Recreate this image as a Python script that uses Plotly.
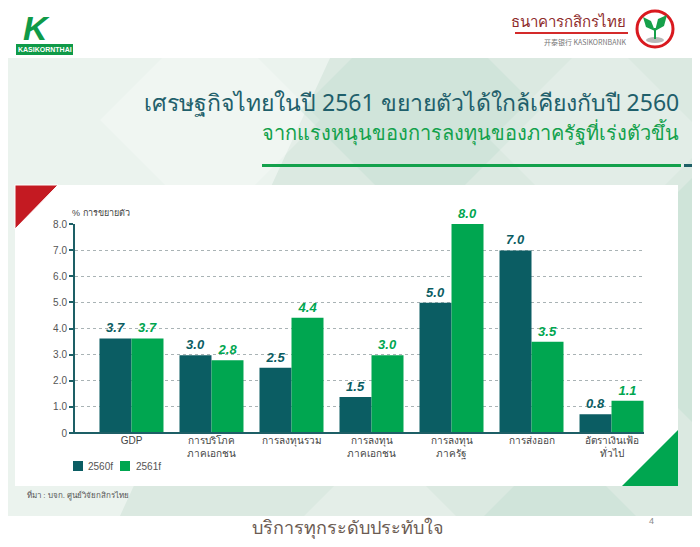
import plotly.graph_objects as go

W, H = 700, 547
# the page body keeps an 8px margin, so the figure is drawn 8px in from the corner
OFF = 8
FW, FH = W - OFF, H - OFF

categories = [
    "GDP",
    "การบริโภค<br>ภาคเอกชน",
    "การลงทุนรวม",
    "การลงทุน<br>ภาคเอกชน",
    "การลงทุน<br>ภาครัฐ",
    "การส่งออก",
    "อัตราเงินเฟ้อ<br>ทั่วไป",
]
# bar heights, printed labels as shown above the bars
growth_2560f = [3.62, 2.98, 2.5, 1.38, 4.99, 6.99, 0.72]
growth_2561f = [3.62, 2.78, 4.41, 2.98, 8.0, 3.49, 1.23]
labels_2560f = ["3.7", "3.0", "2.5", "1.5", "5.0", "7.0", "0.8"]
labels_2561f = ["3.7", "2.8", "4.4", "3.0", "8.0", "3.5", "1.1"]
series_names = ["2560f", "2561f"]
y_ticks = [0, 1, 2, 3, 4, 5, 6, 7, 8]
y_ticktext = ["0", "1.0", "2.0", "3.0", "4.0", "5.0", "6.0", "7.0", "8.0"]

TEAL = "#0b5d63"
GREEN = "#00a650"
AXIS = "#1d5f66"
FONT = "Liberation Sans, Noto Sans, sans-serif"
THAI = "Noto Sans, sans-serif"


def px(x):
    return (x - OFF) / FW


def py(y):
    return 1 - (y - OFF) / FH


def path(points):
    return "M " + " L ".join(f"{px(x):.5f} {py(y):.5f}" for x, y in points) + " Z"


def poly(points, color, line=None):
    return dict(type="path", xref="paper", yref="paper", path=path(points),
                fillcolor=color, line=line or dict(width=0), layer="below")


def rect(x0, y0, x1, y1, color, layer="below"):
    return dict(type="rect", xref="paper", yref="paper",
                x0=px(x0), x1=px(x1), y0=py(y1), y1=py(y0),
                fillcolor=color, line=dict(width=0), layer=layer)


def diamond(cx, cy, r, color):
    return poly([(cx, cy - r), (cx + r, cy), (cx, cy + r), (cx - r, cy)], color)


def note(text, x, y, size, color, anchor="center", family=FONT):
    return dict(text=text, xref="paper", yref="paper", x=px(x), y=py(y),
                xanchor=anchor, yanchor="middle", showarrow=False,
                font=dict(family=family, size=size, color=color))


fig = go.Figure()
for name, vals, labels, color in [
    (series_names[0], growth_2560f, labels_2560f, TEAL),
    (series_names[1], growth_2561f, labels_2561f, GREEN),
]:
    fig.add_trace(go.Bar(
        name=name, x=categories, y=vals,
        marker_color=color, marker_line_width=0,
        text=labels, textposition="outside", cliponaxis=False,
        textfont=dict(family=FONT, size=13, color=color, weight="bold", style="italic"),
        hoverinfo="skip", showlegend=False,
    ))

shapes = [
    rect(0, 0, W, H, "#dbe9e1"),
    poly([(0, 58), (330, 58), (120, 516), (0, 516)], "rgba(255,255,255,0.45)"),
    diamond(210, 120, 110, "rgba(255,255,255,0.25)"),
    diamond(420, 110, 120, "rgba(190,220,205,0.35)"),
    diamond(600, 140, 110, "rgba(255,255,255,0.2)"),
    diamond(700, 300, 130, "rgba(190,220,205,0.4)"),
    diamond(380, 530, 90, "rgba(255,255,255,0.25)"),
    diamond(560, 520, 80, "rgba(190,220,205,0.35)"),
    rect(0, 0, W, 58, "white"),
    rect(0, 516, W, H, "white"),
    # title underline
    rect(262, 164, 681, 167, "#13a14c"),
    rect(684, 164, W, 167, AXIS),
    # chart panel
    rect(15, 185, 678, 486, "white"),
    poly([(15, 185), (58, 185), (15, 229)], "#c41a22",
         dict(color="white", width=1)),
    poly([(678, 430), (678, 486), (622, 486)], GREEN),
    # bottom axis line runs a little left of the y axis
    dict(type="line", xref="paper", yref="paper", x0=px(71), x1=px(644),
         y0=py(433), y1=py(433), line=dict(color=AXIS, width=2), layer="above"),
    # legend keys
    rect(73, 461, 83, 471, TEAL, "above"),
    rect(120, 461, 130, 471, GREEN, "above"),
    # left logo
    rect(16, 44, 73, 55, "#0f9a48"),
    # right logo
    rect(515, 32, 628, 34, "#d42a2a"),
    dict(type="circle", xref="paper", yref="paper",
         x0=px(637), x1=px(673), y0=py(47), y1=py(11),
         fillcolor="white", line=dict(color="#d9191f", width=3)),
    dict(type="circle", xref="paper", yref="paper",
         x0=px(646), x1=px(664), y0=py(43), y1=py(37),
         fillcolor="#b9b9b9", line=dict(width=0)),
    poly([(654, 39), (656, 39), (656, 28), (654, 28)], "#16a04a"),
    poly([(655, 31), (646, 27), (643, 17), (651, 21)], "#16a04a"),
    poly([(655, 31), (664, 26), (667, 15), (658, 19)], "#16a04a"),
]
for s in shapes:
    s.setdefault("layer", "below")

annotations = [
    note("<i><b>K</b></i>", 21, 28, 34, "#0f9a48", "left"),
    note("<b>KASIKORNTHAI</b>", 44.5, 49.5, 7, "white"),
    note("ธนาคารกสิกรไทย", 628, 21, 15, "#8e2b2b", "right", THAI),
    note("开泰银行 KASIKORNBANK", 628, 42, 7, "#777", "right",
         "Noto Sans CJK SC, Liberation Sans, sans-serif"),
    note("เศรษฐกิจไทยในปี 2561 ขยายตัวได้ใกล้เคียงกับปี 2560", 681, 102, 23, "#1f5f6b", "right", THAI),
    note("จากแรงหนุนของการลงทุนของภาครัฐที่เร่งตัวขึ้น", 681, 133, 20, "#13a14c", "right", THAI),
    note("% การขยายตัว", 70, 213, 9, "#444", "left"),
    note(series_names[0], 86, 466, 10, "#555", "left"),
    note(series_names[1], 134, 466, 10, "#555", "left"),
    note("ที่มา : บจก. ศูนย์วิจัยกสิกรไทย", 25, 495, 8, "#555", "left"),
    note("บริการทุกระดับประทับใจ", 348, 527, 18, "#6b5b52", "center", THAI),
    note("4", 651, 521, 9, "#888"),
]

fig.update_layout(
    width=FW, height=FH,
    margin=dict(l=0, r=0, t=0, b=0, autoexpand=False),
    paper_bgcolor="white", plot_bgcolor="rgba(0,0,0,0)",
    barmode="group", bargap=0.2, bargroupgap=0,
    font=dict(family=FONT, size=10, color="#444"),
    xaxis=dict(
        domain=[px(75), px(644)],
        range=[-0.706, 6.406],
        showline=False, showgrid=False, ticks="", automargin=False,
        tickfont=dict(size=10, color="#444"),
    ),
    yaxis=dict(
        domain=[py(433), py(224)],
        range=[0, 8], automargin=False,
        tickvals=y_ticks, ticktext=y_ticktext,
        showgrid=True, gridcolor="#a9b3b5", griddash="dot", gridwidth=1,
        zeroline=False,
        showline=True, linecolor=AXIS, linewidth=2,
        ticks="outside", ticklen=4, tickcolor=AXIS, tickwidth=2,
        tickfont=dict(size=10, color="#555"),
    ),
    shapes=shapes,
    annotations=annotations,
    showlegend=False,
)

fig.write_html("out.html")
